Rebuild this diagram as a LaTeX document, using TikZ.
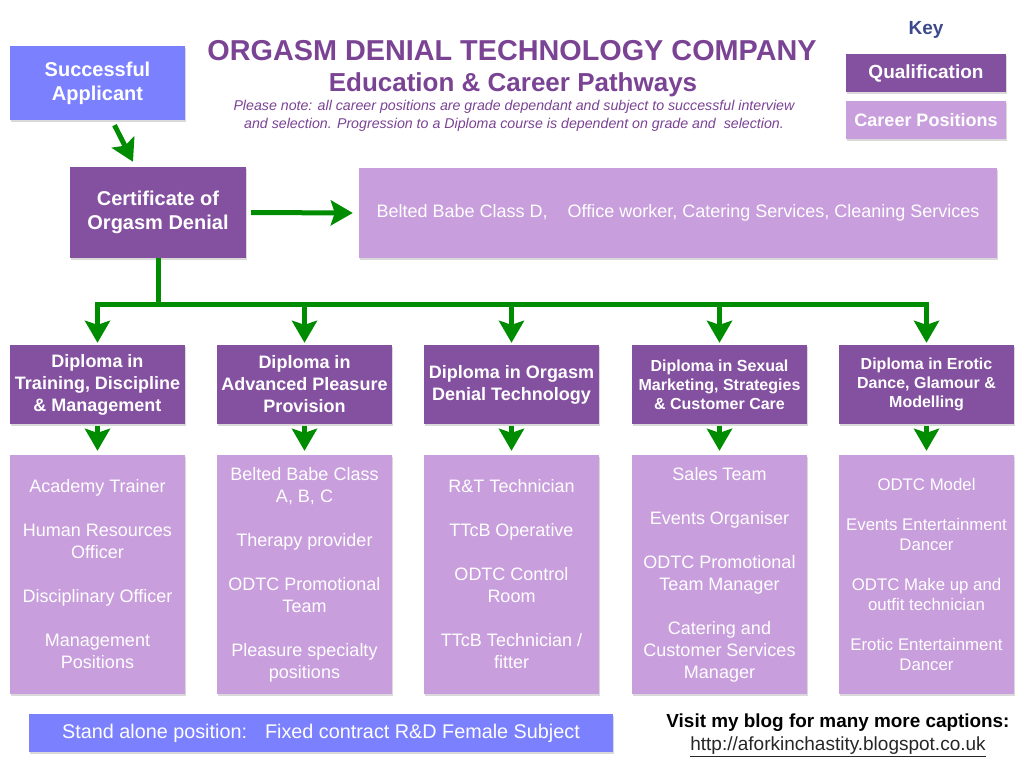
\documentclass[tikz,border=0pt]{standalone}
\usepackage{fontspec}
\setmainfont{Liberation Sans}
\usetikzlibrary{arrows.meta,shadows}

\definecolor{qualpurple}{RGB}{132,80,160}
\definecolor{joblilac}{RGB}{200,158,220}
\definecolor{applblue}{RGB}{123,128,255}
\definecolor{pathgreen}{RGB}{0,140,0}
\definecolor{titlepurple}{RGB}{122,67,148}
\definecolor{keyblue}{RGB}{60,74,140}

\begin{document}
\begin{tikzpicture}[x = 1pt, y = -1pt,
		boxshadow/.style = {drop shadow = {shadow xshift = 0.5pt, shadow yshift = -2pt, opacity = 0.3}},
		qual/.style = {fill = qualpurple, text = white, align = center, inner sep = 0pt, boxshadow,
			minimum width = 175pt, minimum height = 79pt, font = \bfseries\fontsize{18}{22}\selectfont},
		jobs/.style = {fill = joblilac, text = white, align = center, inner sep = 0pt, boxshadow,
			minimum width = 175pt, minimum height = 239pt, font = \fontsize{18}{22}\selectfont},
		path/.style = {draw = pathgreen, line width = 5pt},
		flow/.style = {path, -{Stealth[width = 25pt, length = 22pt, inset = 4pt]}}]
		\useasboundingbox (0, 0) rectangle (1024, 768);

		% heading
		\node[text = titlepurple, font = \bfseries\fontsize{28.8}{30}\selectfont] (title) at (512, 51) {ORGASM DENIAL TECHNOLOGY COMPANY};
		\node[text = titlepurple, font = \bfseries\fontsize{26}{28}\selectfont] (subtitle) at (513, 85) {Education \& Career Pathways};
		\node[text = titlepurple, align = center, font = \itshape\fontsize{14.2}{18}\selectfont] (note) at (514, 116) {Please note: all career positions are grade dependant and subject to successful interview\\and selection. Progression to a Diploma course is dependent on grade and\ \ selection.};

		% key
		\node[text = keyblue, font = \bfseries\fontsize{19}{20}\selectfont] (key) at (926, 30) {Key};
		\node[qual, minimum width = 160pt, minimum height = 38pt, font = \bfseries\fontsize{19}{20}\selectfont] (keyqual) at (926, 73) {Qualification};
		\node[jobs, minimum width = 160pt, minimum height = 38pt, font = \bfseries\fontsize{18}{20}\selectfont] (keyjobs) at (926, 120) {Career Positions};

		% entry
		\node[qual, fill = applblue, minimum height = 74pt, font = \bfseries\fontsize{20}{24}\selectfont] (applicant) at (97.5, 83) {Successful\\Applicant};
		\node[qual, minimum width = 176pt, minimum height = 91pt, font = \bfseries\fontsize{20}{24}\selectfont] (cert) at (158, 212.5) {Certificate of\\Orgasm Denial};
		\node[jobs, minimum width = 638pt, minimum height = 90pt, font = \fontsize{18}{20}\selectfont] (certjobs) at (678, 213) {Belted Babe Class D,\hspace{20pt}Office worker, Catering Services, Cleaning Services};
		\draw[flow] ([xshift = 17pt, yshift = -5pt]applicant.south) -- ([xshift = -25pt, yshift = 5pt]cert.north);
		\draw[flow, shorten <= 5pt, shorten >= 6pt] (cert.east) -- (certjobs.west);

		% diplomas
		\node[qual] (dipA) at (97.5, 384.5) {Diploma in\\Training, Discipline\\\& Management};
		\node[qual] (dipB) at (304.5, 384.5) {Diploma in\\Advanced Pleasure\\Provision};
		\node[qual] (dipC) at (511.5, 384.5) {Diploma in Orgasm\\Denial Technology};
		\node[qual, font = \bfseries\fontsize{16}{19}\selectfont] (dipD) at (719.5, 384.5) {Diploma in Sexual\\Marketing, Strategies\\\& Customer Care};
		\node[qual, font = \bfseries\fontsize{16}{19}\selectfont] (dipE) at (926.5, 384.5) {Diploma in Erotic\\Dance, Glamour \&\\Modelling};

		% careers
		\node[jobs] (jobA) at (97.5, 574.5) {Academy Trainer\\[22pt]Human Resources\\Officer\\[22pt]Disciplinary Officer\\[22pt]Management\\Positions};
		\node[jobs] (jobB) at (304.5, 574.5) {Belted Babe Class\\A, B, C\\[22pt]Therapy provider\\[22pt]ODTC Promotional\\Team\\[22pt]Pleasure specialty\\positions};
		\node[jobs] (jobC) at (511.5, 574.5) {R\&T Technician\\[22pt]TTcB Operative\\[22pt]ODTC Control\\Room\\[22pt]TTcB Technician /\\fitter};
		\node[jobs] (jobD) at (719.5, 574.5) {Sales Team\\[22pt]Events Organiser\\[22pt]ODTC Promotional\\Team Manager\\[22pt]Catering and\\Customer Services\\Manager};
		\node[jobs, font = \fontsize{16.8}{20}\selectfont] (jobE) at (926.5, 574.5) {ODTC Model\\[20pt]Events Entertainment\\Dancer\\[20pt]ODTC Make up and\\outfit technician\\[20pt]Erotic Entertainment\\Dancer};

		% tree
		\coordinate (split) at (158, 304);
		\draw[path] (cert.south) -- (split);
		\draw[path, line cap = rect] (split -| dipA.north) -- (split -| dipE.north);
		\draw[flow, shorten >= 2pt] (split -| dipA.north) -- (dipA.north);
		\draw[flow, shorten >= 2pt] (split -| dipB.north) -- (dipB.north);
		\draw[flow, shorten >= 2pt] (split -| dipC.north) -- (dipC.north);
		\draw[flow, shorten >= 2pt] (split -| dipD.north) -- (dipD.north);
		\draw[flow, shorten >= 2pt] (split -| dipE.north) -- (dipE.north);
		\draw[flow, shorten <= 2pt, shorten >= 4pt] (dipA) -- (jobA);
		\draw[flow, shorten <= 2pt, shorten >= 4pt] (dipB) -- (jobB);
		\draw[flow, shorten <= 2pt, shorten >= 4pt] (dipC) -- (jobC);
		\draw[flow, shorten <= 2pt, shorten >= 4pt] (dipD) -- (jobD);
		\draw[flow, shorten <= 2pt, shorten >= 4pt] (dipE) -- (jobE);

		% footer
		\node[qual, fill = applblue, minimum width = 584pt, minimum height = 38pt, font = \fontsize{19.8}{20}\selectfont] (standalone) at (321, 733) {Stand alone position:\hspace{18pt}Fixed contract R\&D Female Subject};
		\node[font = \bfseries\fontsize{18.9}{20}\selectfont] (blog) at (838, 723) {Visit my blog for many more captions:};
		\node[text = black!85, font = \fontsize{19}{20}\selectfont] (blogurl) at (838, 747) {\underline{http://aforkinchastity.blogspot.co.uk}};
	\end{tikzpicture}
\end{document}
